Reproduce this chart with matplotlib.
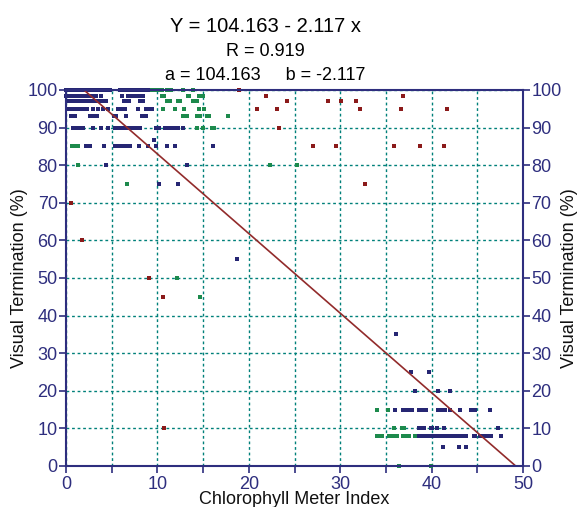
import numpy as np
import matplotlib
matplotlib.use("Agg")
import matplotlib.pyplot as plt
from matplotlib.ticker import MultipleLocator

plt.rcParams['font.family'] = 'Liberation Sans'

# fit shown in the header
a_coef = 104.163
b_coef = -2.117
r_coef = 0.919

# blue points (x = meter index, y = termination %)
blue_x = [0.0, 0.3, 0.6, 0.9, 1.2, 1.5, 1.8, 2.1, 2.4, 2.7, 3.0, 3.3, 3.6, 4.0, 4.4, 4.8,
          5.9, 6.2, 6.5, 6.8, 7.1, 7.4, 7.7, 8.0, 8.3, 8.6, 9.0,
          0.0, 0.3, 0.6, 0.9, 1.2, 1.5, 1.8, 2.1, 2.4, 2.7, 3.0, 3.3, 3.8, 6.1, 6.8, 7.2, 7.7, 8.1, 8.4,
          0.1, 0.4, 0.7, 1.0, 1.3, 1.6, 1.9, 2.2, 2.5, 2.8, 3.1, 3.5, 3.9, 4.4, 6.3, 6.6, 6.9, 8.1, 8.4,
          0.15, 0.44, 0.8, 1.1, 1.4, 1.7, 2.0, 2.3, 3.0, 3.5, 4.1, 4.6, 5.7, 6.0, 6.3, 6.5, 7.9, 8.8, 9.1, 9.4,
          0.6, 1.0, 2.6, 2.9, 3.2, 3.4, 5.2, 5.5, 6.6, 8.3, 8.7,
          0.8, 1.1, 1.4, 1.7, 1.9, 3.0, 3.8, 4.6, 5.4, 5.7, 6.0, 6.3, 6.6, 6.9, 7.2, 7.5, 7.8, 8.1,
          9.9, 10.2, 10.8, 11.1, 11.4, 11.7, 12.0, 12.3, 12.8,
          9.6,
          2.2, 2.4, 2.6, 4.2, 5.4, 5.7, 6.0, 6.3, 6.6, 7.0, 8.0, 9.0, 9.9, 11.0, 11.9, 16.1,
          4.4, 13.2, 10.2, 12.3, 18.7,
          36.1, 37.8, 39.7, 38.2, 40.7, 42.0,
          36.0, 36.9, 37.3, 37.6, 37.9, 38.6, 38.8, 39.1, 39.4, 40.7, 41.0, 41.5, 42.0, 43.1, 44.3, 44.8, 46.4,
          38.6, 38.9, 39.2, 39.9, 40.0, 40.6, 41.4, 47.3,
          38.4, 38.7, 39.0, 39.3, 39.6, 39.9, 40.2, 40.5, 40.8, 41.1, 41.4, 41.7, 42.0, 42.3, 42.6,
          42.9, 43.2, 43.5, 43.8, 44.6, 44.8, 45.3, 45.6, 45.9, 46.2, 46.5, 47.6,
          41.3, 43.0, 43.8]
blue_y = [100] * 27 + [98.5] * 19 + [97] * 19 + [95] * 20 + [93] * 11 + [90] * 27 + [86.7] \
    + [85] * 16 + [80, 80, 75, 75, 55] + [35, 25, 25, 20, 20, 20] + [15] * 17 + [10] * 8 \
    + [8] * 27 + [5] * 3

green_x = [9.4, 9.7, 10.0, 10.3, 10.5, 11.0, 11.5, 12.8, 13.9,
           10.5, 10.7, 13.4, 13.5, 14.5, 15.0,
           11.1, 11.4, 12.3, 12.5, 13.9, 14.1, 14.3,
           10.6, 11.9, 12.9, 14.5, 15.1,
           12.8, 13.0, 13.2, 14.3, 14.7, 15.4, 15.6, 17.7,
           14.3, 15.0, 16.0, 16.2,
           0.7, 1.0, 1.3,
           1.35, 22.3, 25.3, 6.7, 12.1, 14.7,
           34.0, 35.2, 35.9, 36.8, 37.0,
           34.0, 34.3, 34.6, 35.3, 35.5, 35.8, 36.0, 36.2, 36.9, 37.2, 37.5, 38.2,
           36.4, 39.9]
green_y = [100] * 9 + [98.5] * 6 + [97] * 7 + [95] * 5 + [93] * 8 + [90] * 4 + [85] * 3 \
    + [80, 80, 80, 75, 50, 45] + [15, 15, 10, 10, 10] + [8] * 12 + [0, 0]

red_x = [0.6, 1.8, 9.1, 10.6, 10.7, 18.9, 21.9, 20.9, 23.1, 24.2, 23.3, 28.7, 30.1, 31.7,
         32.2, 36.9, 36.7, 41.7, 27.0, 29.5, 35.9, 38.7, 41.4, 32.7]
red_y = [70, 60, 50, 45, 10, 100, 98.5, 95, 95, 97, 90, 97, 97, 97,
         95, 98.5, 95, 95, 85, 85, 85, 85, 85, 75]

navy = '#2e2e7e'
teal = '#00807a'

fig = plt.figure(figsize=(5.82, 5.07), dpi=100)
ax = fig.add_axes([66 / 582, 41 / 507, 457 / 582, 376 / 507])

ax.set_xlim(0, 50)
ax.set_ylim(0, 100)
ax.xaxis.set_major_locator(MultipleLocator(10))
ax.xaxis.set_minor_locator(MultipleLocator(5))
ax.yaxis.set_major_locator(MultipleLocator(10))
ax.grid(True, which='both', axis='x', color=teal, linestyle=(0, (2, 2)), linewidth=1)
ax.grid(True, which='major', axis='y', color=teal, linestyle=(0, (2, 2)), linewidth=1)
ax.set_axisbelow(True)

ms = 2.2
ax.plot(blue_x, blue_y, 's', color='#262673', ms=ms, mew=0, clip_on=False)
ax.plot(green_x, green_y, 's', color='#1d8a4c', ms=ms, mew=0, clip_on=False)
ax.plot(red_x, red_y, 's', color='#8b1a1a', ms=ms, mew=0, clip_on=False)

xl = np.array([0, -a_coef / b_coef])
ax.plot(xl, a_coef + b_coef * xl, color='#922b2b', lw=1.2)

for s in ax.spines.values():
    s.set_color(navy)
    s.set_linewidth(1.5)
ax.tick_params(which='both', direction='out', length=5, width=1.2, color=navy,
               labelcolor=navy, labelsize=13, right=True, labelright=True, pad=1)
ax.tick_params(axis='x', pad=2)

ax.set_xlabel('Chlorophyll Meter Index', fontsize=13, color='#111111', labelpad=-1)
fig.text(20 / 582, 1 - 278 / 507, 'Visual Termination (%)', rotation=90,
         ha='center', va='center', fontsize=13, color='#111111')
fig.text(570 / 582, 1 - 278 / 507, 'Visual Termination (%)', rotation=90,
         ha='center', va='center', fontsize=13, color='#111111')

fig.text(265 / 582, 1 - 26 / 507, 'Y = %.3f - %.3f x' % (a_coef, -b_coef),
         ha='center', va='center', fontsize=14.5)
fig.text(265 / 582, 1 - 51 / 507, 'R = %.3f' % r_coef,
         ha='center', va='center', fontsize=13)
fig.text(265 / 582, 1 - 76 / 507, 'a = %.3f     b = %.3f' % (a_coef, b_coef),
         ha='center', va='center', fontsize=13)

fig.savefig('out.png', dpi=100)
